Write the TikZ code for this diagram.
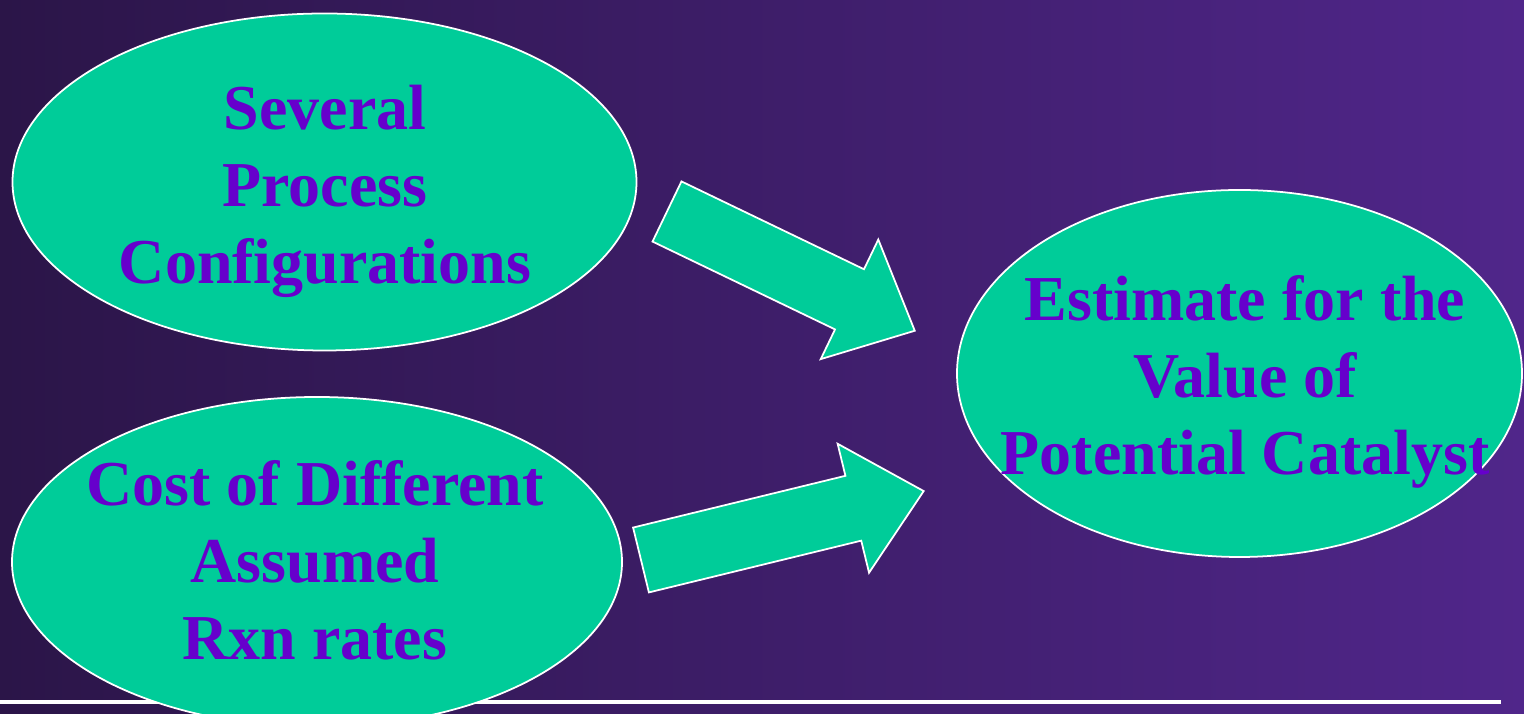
\documentclass[tikz,border=0pt]{standalone}
\usepackage{fontspec}
\setmainfont{Liberation Serif}
\usetikzlibrary{shapes.geometric,shapes.arrows}

\definecolor{slide}{RGB}{63,30,108}
\definecolor{slidedark}{RGB}{43,21,72}
\definecolor{slidelight}{RGB}{80,38,138}
\definecolor{seagreen}{RGB}{0,204,153}
\definecolor{inkviolet}{RGB}{102,0,204}

\begin{document}
\begin{tikzpicture}[
  bubble/.style={ellipse, draw=white, line width=0.5pt, fill=seagreen, inner sep=0pt},
  caption/.style={align=center, text=inkviolet, font=\fontsize{18.2}{21.9}\selectfont\bfseries},
  bigarrow/.style={single arrow, draw=white, line width=0.5pt, fill=seagreen, inner xsep=0pt, inner ysep=0.325cm,
    outer sep=0pt, single arrow head extend=0.33cm, single arrow tip angle=85, anchor=tail}]
\useasboundingbox (0,0) rectangle (15.24,-7.14);
\clip (0,0) rectangle (15.24,-7.14);

% background and footer rule
\shade[left color=slidedark, middle color=slide, right color=slidelight] (0,0) rectangle (15.24,-7.14);
\draw[white, line width=1.2pt] (0,-7.02) -- (15.01,-7.02);

% the three ellipses
\node[bubble, minimum width=6.24cm, minimum height=3.37cm] (config) at (3.245,-1.82) {};
\node[bubble, minimum width=6.10cm, minimum height=3.30cm] (cost) at (3.17,-5.62) {};
\node[bubble, minimum width=5.65cm, minimum height=3.67cm] (value) at (12.395,-3.735) {};

\node[caption] (configtxt) at (3.25,-1.91) {Several\\Process\\Configurations};
\node[caption] (costtxt) at (3.15,-5.60) {Cost of Different\\Assumed\\Rxn rates};
\node[caption] (valuetxt) at (12.45,-3.815) {Estimate for the\\Value of\\Potential Catalyst};

% block arrows
\node[bigarrow, minimum height=2.75cm, rotate=-25.7] (toparrow) at (6.67,-2.115) {};
\node[bigarrow, minimum height=2.91cm, rotate=13.7] (lowarrow) at (6.41,-5.60) {};
\end{tikzpicture}
\end{document}
